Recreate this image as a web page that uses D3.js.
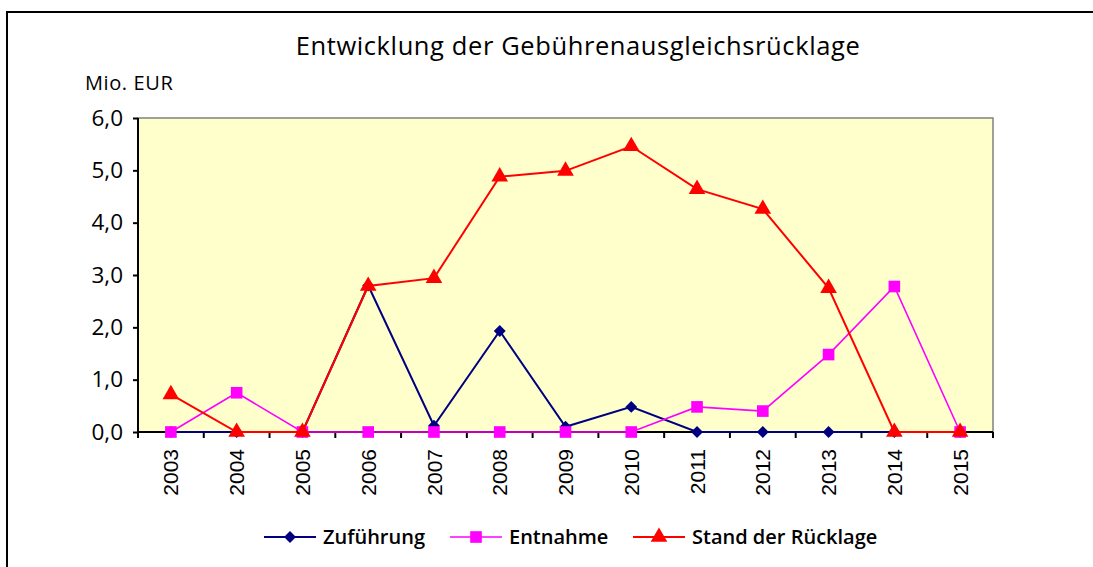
<!DOCTYPE html>
<html>
<head>
  <meta charset="utf-8">
  <title>Entwicklung der Gebührenausgleichsrücklage</title>
  <script src="https://d3js.org/d3.v7.min.js"></script>
  <style>
    body { margin: 0; background: #fff; }
    text { font-family: "Open Sans", "Noto Sans", sans-serif; fill: #000; }
  </style>
</head>
<body>
  <div id="vis"></div>
  <script>
    const width = 1093
    const height = 567

    // data (Mio. EUR)
    const years = ["2003", "2004", "2005", "2006", "2007", "2008", "2009", "2010", "2011", "2012", "2013", "2014", "2015"]
    const zufuehrung = [0, 0, 0, 2.8, 0.12, 1.93, 0.1, 0.48, 0, 0, 0, 0, 0]
    const entnahme = [0, 0.75, 0, 0, 0, 0, 0, 0, 0.48, 0.4, 1.48, 2.78, 0]
    const stand = [0.72, 0, 0, 2.79, 2.94, 4.88, 4.99, 5.46, 4.64, 4.26, 2.75, 0, 0]
    const yTicks = [0, 1, 2, 3, 4, 5, 6]

    const series = [
      { name: "Zuführung", values: zufuehrung, color: "#000080", symbol: d3.symbolDiamond2, size: 90, lw: 2 },
      { name: "Entnahme", values: entnahme, color: "#FF00FF", symbol: d3.symbolSquare, size: 135, lw: 1.6 },
      { name: "Stand der Rücklage", values: stand, color: "#FF0000", symbol: d3.symbolTriangle, size: 120, lw: 2 }
    ]

    const plot = { left: 138, right: 993, top: 118, bottom: 432 }

    const svg = d3.select("#vis")
      .append("svg")
      .attr("width", width)
      .attr("height", height)

    // outer frame
    svg.append("rect")
      .attr("x", 7).attr("y", 12)
      .attr("width", 1200).attr("height", 700)
      .attr("fill", "none")
      .attr("stroke", "#000")
      .attr("stroke-width", 2)

    const x = d3.scaleBand()
      .domain(years)
      .range([plot.left, plot.right])

    const y = d3.scaleLinear()
      .domain([0, 6])
      .range([plot.bottom, plot.top])

    // plot area
    svg.append("rect")
      .attr("x", plot.left).attr("y", plot.top)
      .attr("width", plot.right - plot.left)
      .attr("height", plot.bottom - plot.top)
      .attr("fill", "#FFFFCC")
      .attr("stroke", "#808080")
      .attr("stroke-width", 1.5)

    // title
    svg.append("text")
      .attr("x", 578).attr("y", 55)
      .attr("text-anchor", "middle")
      .attr("font-size", 25.5)
      .attr("letter-spacing", 0.6)
      .text("Entwicklung der Gebührenausgleichsrücklage")

    svg.append("text")
      .attr("x", 85).attr("y", 90)
      .attr("font-size", 20)
      .attr("letter-spacing", 0.6)
      .text("Mio. EUR")

    // y axis
    const yAxis = svg.append("g")
      .attr("transform", `translate(${plot.left},0)`)
      .call(d3.axisLeft(y).tickValues(yTicks).tickSize(5).tickPadding(10)
        .tickFormat(d => d3.format(".1f")(d).replace(".", ",")))
    yAxis.selectAll("text")
      .attr("font-size", 22.5)
      .attr("font-family", "'Open Sans', sans-serif")
    yAxis.selectAll("line, path").attr("stroke", "#000").attr("stroke-width", 2)
    yAxis.select("path").attr("d", `M0,${plot.top}V${plot.bottom}`)

    // x axis, ticks between categories
    const xAxis = svg.append("g")
      .attr("transform", `translate(0,${plot.bottom})`)
    xAxis.append("line")
      .attr("x1", plot.left).attr("x2", plot.right)
      .attr("stroke", "#000").attr("stroke-width", 2)
    xAxis.selectAll("line.tick")
      .data(years.concat(["end"]))
      .join("line")
      .attr("class", "tick")
      .attr("x1", (d, i) => plot.left + i * x.step())
      .attr("x2", (d, i) => plot.left + i * x.step())
      .attr("y1", 0).attr("y2", 6)
      .attr("stroke", "#000").attr("stroke-width", 2)
    xAxis.selectAll("text")
      .data(years)
      .join("text")
      .attr("transform", d => `translate(${x(d) + x.bandwidth() / 2},17) rotate(-90)`)
      .attr("text-anchor", "end")
      .attr("dy", "0.36em")
      .attr("font-size", 21)
      .style("font-family", "'Liberation Sans', Arial, sans-serif")
      .text(d => d)

    const line = d3.line()
      .x((d, i) => x(years[i]) + x.bandwidth() / 2)
      .y(d => y(d))

    series.forEach(s => {
      const g = svg.append("g")
      g.append("path")
        .datum(s.values)
        .attr("d", line)
        .attr("fill", "none")
        .attr("stroke", s.color)
        .attr("stroke-width", s.lw)
      g.selectAll("path.mark")
        .data(s.values)
        .join("path")
        .attr("class", "mark")
        .attr("transform", (d, i) => `translate(${x(years[i]) + x.bandwidth() / 2},${y(d)})`)
        .attr("d", d3.symbol(s.symbol, s.size))
        .attr("fill", s.color)
    })

    // legend
    const legendX = [264, 450, 633]
    const legend = svg.append("g")
      .selectAll("g")
      .data(series)
      .join("g")
      .attr("transform", (d, i) => `translate(${legendX[i]},537)`)
    legend.append("line")
      .attr("x1", 0).attr("x2", 52)
      .attr("stroke", d => d.color)
      .attr("stroke-width", d => d.lw)
    legend.append("path")
      .attr("transform", "translate(26,0)")
      .attr("d", d => d3.symbol(d.symbol, d.size)())
      .attr("fill", d => d.color)
    legend.append("text")
      .attr("x", 59)
      .attr("dy", "0.35em")
      .attr("font-size", 20)
      .attr("font-weight", 600)
      .text(d => d.name)
  </script>
</body>
</html>
